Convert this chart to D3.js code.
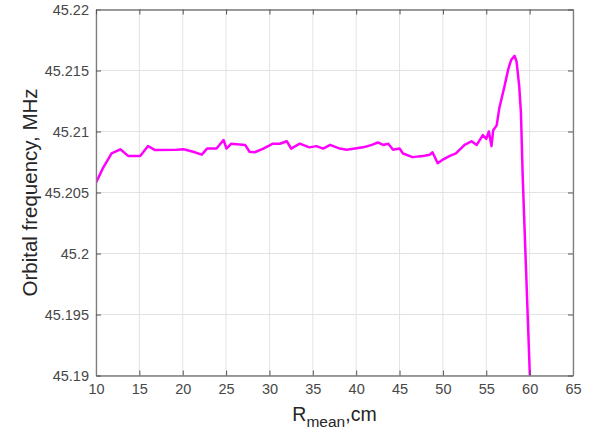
<!DOCTYPE html>
<html>
<head>
<meta charset="utf-8">
<script src="https://cdn.jsdelivr.net/npm/d3@7"></script>
<style>
  body { margin: 0; background: #fff; }
  text { font-family: "Liberation Sans", Arial, sans-serif; }
</style>
</head>
<body>
<div id="chart-area"></div>
<script>
var w = 594;
var h = 432;

// values
var rMean = [10, 10.8, 11.8, 12.8, 13.7, 15.1, 16.0, 16.8, 19.3, 20.1, 21.2, 22.2, 22.8, 23.9, 24.7,
             25.05, 25.6, 27.2, 27.7, 28.3, 29.3, 30.4, 31.2, 32.0, 32.5, 33.5, 34.6, 35.4, 36.2,
             37.0, 38.1, 38.9, 40.8, 41.8, 42.5, 43.1, 43.7, 44.25, 45.0, 45.4, 46.5, 47.7, 48.5,
             48.8, 49.4, 50.0, 50.8, 51.5, 52.5, 53.3, 53.9, 54.6, 55.0, 55.3, 55.6, 55.8, 56.2,
             56.5, 57.1, 57.5, 57.7, 57.9, 58.27, 58.5, 58.8, 59.0, 59.2, 60.05];
var freq = [45.2058, 45.2070, 45.2082, 45.20854, 45.2080, 45.2080, 45.20881, 45.20848, 45.2085, 45.20854,
            45.20834, 45.2081, 45.2086, 45.2086, 45.2093, 45.2086, 45.2090, 45.2089, 45.20834, 45.2083,
            45.2086, 45.2090, 45.2090, 45.2092, 45.2086, 45.2090, 45.2087, 45.2088, 45.2086, 45.2089,
            45.2086, 45.2085, 45.2087, 45.2089, 45.2091, 45.2089, 45.2090, 45.2085, 45.2086, 45.2082,
            45.2079, 45.2080, 45.2081, 45.2083, 45.2074, 45.2077, 45.2080, 45.2082, 45.2089, 45.2092,
            45.2089, 45.2097, 45.2094, 45.2100, 45.2088, 45.2101, 45.2105, 45.2119, 45.2137, 45.2150,
            45.2155, 45.2159, 45.2162, 45.2157, 45.2137, 45.2115, 45.2063, 45.1895];

var xTicks = [10, 15, 20, 25, 30, 35, 40, 45, 50, 55, 60, 65];
var yTicks = [45.19, 45.195, 45.2, 45.205, 45.21, 45.215, 45.22];

var margin = {left: 96, right: 21, top: 9.5, bottom: 56.5};
var iw = w - margin.left - margin.right;
var ih = h - margin.top - margin.bottom;

var svg = d3.select('#chart-area').append('svg')
        .attr('width', w)
        .attr('height', h);

var x = d3.scaleLinear().domain([10, 65]).range([0, iw]);
var y = d3.scaleLinear().domain([45.19, 45.22]).range([ih, 0]);

var g = svg.append('g')
    .attr('transform', 'translate(' + margin.left + ',' + margin.top + ')');

// grid
g.append('g').selectAll('line')
    .data(xTicks)
    .enter()
    .append('line')
    .attr('x1', d => x(d)).attr('x2', d => x(d))
    .attr('y1', 0).attr('y2', ih)
    .attr('stroke', '#e3e3e3');
g.append('g').selectAll('line')
    .data(yTicks)
    .enter()
    .append('line')
    .attr('y1', d => y(d)).attr('y2', d => y(d))
    .attr('x1', 0).attr('x2', iw)
    .attr('stroke', '#e3e3e3');

// the curve, clipped to the axes box
g.append('clipPath').attr('id', 'clip')
    .append('rect').attr('width', iw).attr('height', ih);

var line = d3.line()
    .x((d, i) => x(rMean[i]))
    .y(d => y(d));

g.append('path')
    .datum(freq)
    .attr('clip-path', 'url(#clip)')
    .attr('fill', 'none')
    .attr('stroke', '#ff00ff')
    .attr('stroke-width', 2.5)
    .attr('stroke-linejoin', 'round')
    .attr('d', line);

// axes with inward ticks on all four sides
var xAxis = d3.axisBottom(x).tickValues(xTicks).tickSizeInner(-5).tickSizeOuter(0).tickPadding(10);
var yAxis = d3.axisLeft(y).tickValues(yTicks).tickSizeInner(-5).tickSizeOuter(0).tickPadding(10)
    .tickFormat(d => +d.toFixed(3));

var gx = g.append('g').attr('transform', 'translate(0,' + ih + ')').call(xAxis);
var gy = g.append('g').call(yAxis);
var gxt = g.append('g').call(d3.axisTop(x).tickValues(xTicks).tickSizeInner(-5).tickSizeOuter(0).tickFormat(''));
var gyr = g.append('g').attr('transform', 'translate(' + iw + ',0)')
    .call(d3.axisRight(y).tickValues(yTicks).tickSizeInner(-5).tickSizeOuter(0).tickFormat(''));

[gx, gy, gxt, gyr].forEach(function(a){
  a.select('.domain').attr('stroke', '#7d7d7d').attr('stroke-width', 1.3);
  a.selectAll('.tick line').attr('stroke', '#555');
  a.selectAll('.tick text').attr('fill', '#474747').attr('font-size', 14.5)
    .attr('font-family', '"Liberation Sans", Arial, sans-serif');
});
gx.selectAll('.tick text').attr('dy', '0.6em');
gy.selectAll('.tick text').attr('x', -7);

// axis titles
svg.append('text')
    .attr('transform', 'translate(37,' + (margin.top + ih / 2) + ') rotate(-90)')
    .attr('text-anchor', 'middle')
    .attr('font-size', 20.5)
    .attr('fill', '#262626')
    .text('Orbital frequency, MHz');

var xl = svg.append('text')
    .attr('x', margin.left + iw / 2)
    .attr('y', 421)
    .attr('text-anchor', 'middle')
    .attr('font-size', 19.5)
    .attr('fill', '#262626');
xl.append('tspan').text('R');
xl.append('tspan').attr('font-size', 15.5).attr('dy', 6).text('mean');
xl.append('tspan').attr('dy', -6).text(',cm');
</script>
</body>
</html>
